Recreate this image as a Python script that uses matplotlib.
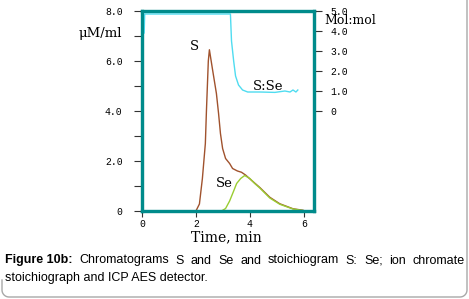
import numpy as np
import matplotlib.pyplot as plt
from matplotlib.lines import Line2D

# --- Chromatogram data (time in min, signal in uM/ml) ---
s_time = [0.0, 2.0, 2.13, 2.24, 2.35, 2.39, 2.46, 2.50, 2.61, 2.76, 2.84, 2.91, 2.99,
          3.10, 3.25, 3.36, 3.54, 3.69, 3.84, 4.07, 4.37, 4.74, 5.11, 5.60, 5.97, 6.05]
s_signal = [0.0, 0.0, 0.28, 1.3, 2.7, 4.0, 6.0, 6.45, 5.7, 4.7, 3.9, 3.1, 2.5,
            2.1, 1.9, 1.7, 1.6, 1.55, 1.44, 1.22, 0.94, 0.55, 0.29, 0.09, 0.03, 0.0]

se_time = [0.0, 2.95, 3.10, 3.25, 3.40, 3.51, 3.66, 3.81, 4.00, 4.18, 4.37, 4.74,
           5.11, 5.60, 5.97, 6.05]
se_signal = [0.0, 0.0, 0.1, 0.4, 0.8, 1.1, 1.3, 1.42, 1.3, 1.1, 0.92, 0.52,
             0.27, 0.08, 0.02, 0.0]

# --- Stoichiogram S:Se (mol:mol) ---
ratio_time = [0.08, 0.10, 1.0, 2.0, 3.0, 3.28, 3.32, 3.40, 3.47, 3.58, 3.73, 3.92,
              4.37, 4.93, 5.30, 5.49, 5.60, 5.71, 5.78]
ratio_value = [3.9, 4.85, 4.85, 4.85, 4.85, 4.85, 3.5, 2.5, 1.75, 1.3, 1.05, 0.95,
               0.95, 0.93, 1.0, 0.95, 1.05, 0.95, 1.05]

left_ticks = [0, 2, 4, 6, 8]
left_labels = ['0', '2.0', '4.0', '6.0', '8.0']
right_ticks = [0, 1, 2, 3, 4, 5]
right_labels = ['0', '1.0', '2.0', '3.0', '4.0', '5.0']
x_ticks = [0, 2, 4, 6]

caption_bold = 'Figure 10b:'
caption_line1 = 'Chromatograms S and Se and stoichiogram S: Se; ion chromate'
caption_line2 = 'stoichiograph and ICP AES detector.'

teal = '#008b8b'
W, H = 469, 299

fig = plt.figure(figsize=(W / 100, H / 100), dpi=100)
ax = fig.add_axes([142 / W, 1 - 211 / H, 172 / W, 200 / H])

ax.plot(s_time, s_signal, color='#a0522d', lw=1.0)
ax.plot(se_time, se_signal, color='#9acd32', lw=1.0)
ax.set_xlim(0, 6.38)
ax.set_ylim(0, 8)

ax2 = ax.twinx()
ax2.plot(ratio_time, ratio_value, color='#4fdcf0', lw=1.0)
ax2.set_ylim(-5, 5)

for a in (ax, ax2):
    for sp in a.spines.values():
        sp.set_color(teal)
        sp.set_linewidth(2.3)

tick_font = dict(family='Liberation Mono', size=7)
ax.set_yticks(left_ticks)
ax.set_yticklabels(left_labels, **tick_font)
ax.set_yticks([1, 3, 5, 7], minor=True)
ax.set_xticks(x_ticks)
ax.set_xticklabels([str(t) for t in x_ticks], **tick_font)
ax.tick_params(axis='y', which='both', direction='out', length=6, width=0.8,
               color='#333333', pad=8)
ax.tick_params(axis='x', direction='out', length=4.5, width=0.8, color='#333333', pad=1)

ax2.set_yticks(right_ticks)
ax2.set_yticklabels(right_labels, **tick_font)
ax2.tick_params(axis='y', direction='out', length=6, width=0.8, color='#333333', pad=6)

serif = 'DejaVu Serif'
fig.text(100 / W, 1 - 33 / H, '\u03bcM/ml', family=serif, size=9.5, ha='center', va='center')
fig.text(350 / W, 1 - 21 / H, 'Mol:mol', family=serif, size=9, ha='center', va='center')
fig.text(226 / W, 1 - 237 / H, 'Time, min', family=serif, size=10, ha='center', va='center')

ax.text(1.94, 6.6, 'S', family=serif, size=9.5, ha='center', va='center')
ax.text(3.06, 1.1, 'Se', family=serif, size=9.5, ha='center', va='center')
ax2.text(4.66, 1.25, 'S:Se', family=serif, size=9.5, ha='center', va='center')

# --- caption, justified first line ---
renderer = fig.canvas.get_renderer()
words = [(caption_bold, 'bold')] + [(w, 'normal') for w in caption_line1.split()]
texts = [fig.text(0, 0, w, family='Liberation Sans', size=9, weight=wt,
                  va='baseline') for w, wt in words]
widths = [t.get_window_extent(renderer).width for t in texts]
x0, x1 = 5, 465
gap = (x1 - x0 - sum(widths)) / (len(texts) - 1)
x = x0
for t, w in zip(texts, widths):
    t.set_position((x / W, 1 - 263.5 / H))
    x += w + gap
fig.text(x0 / W, 1 - 280.5 / H, caption_line2, family='Liberation Sans', size=9,
         va='baseline')

# --- light rounded border round the bottom/right ---
r = 7
ang = np.linspace(0, np.pi / 2, 10)
bx = [467] + list(467 - r + r * np.cos(ang)) + list(2 + r - r * np.cos(ang[::-1])) + [2]
by = [0] + list(297 - r + r * np.sin(ang)) + list(297 - r + r * np.sin(ang[::-1])) + [280]
bx = np.array(bx) / W
by = 1 - np.array(by) / H
fig.add_artist(Line2D(bx, by, transform=fig.transFigure, color='#a8a8a8', lw=1.0))

fig.savefig('out.png', dpi=100)
